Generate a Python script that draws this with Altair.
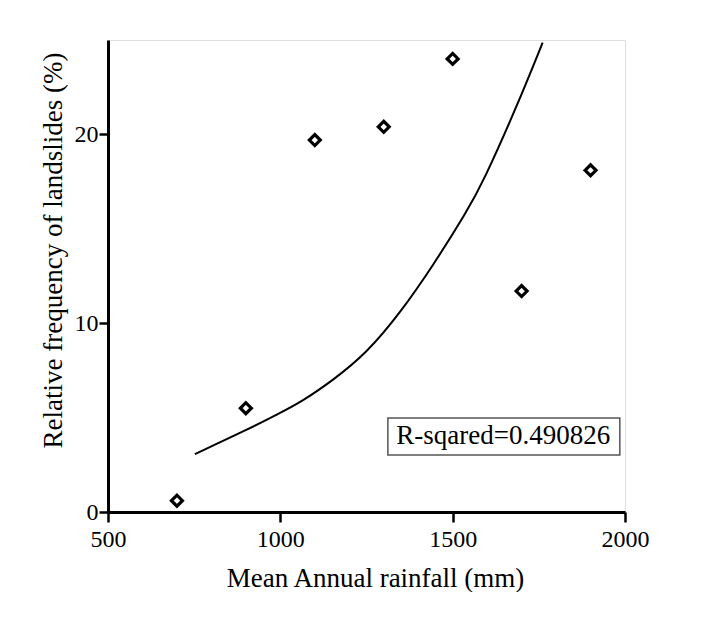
import altair as alt
import pandas as pd

# Observed data points
rainfall = [700, 900, 1100, 1300, 1500, 1700, 1900]
frequency = [0.6, 5.5, 19.7, 20.4, 24.0, 11.7, 18.1]

# Fitted curve
curve_x = [752, 902, 999, 1057, 1154, 1250, 1347, 1444, 1541, 1589, 1686, 1761]
curve_y = [3.07, 4.34, 5.25, 5.79, 6.99, 8.41, 10.52, 13.08, 15.91, 17.5, 21.47, 24.86]

# Annotation
label_text = ["R-sqared=0.490826"]
label_x = [1647]
label_y = [4.03]
box_x1, box_x2, box_y1, box_y2 = [1312], [1985], [3.02], [4.98]

FONT = "Liberation Serif"

pts = pd.DataFrame({"x": rainfall, "y": frequency})
cur = pd.DataFrame({"x": curve_x, "y": curve_y})
lab = pd.DataFrame({"x": label_x, "y": label_y, "t": label_text})
box = pd.DataFrame({"x": box_x1, "x2": box_x2, "y": box_y1, "y2": box_y2})

xscale = alt.Scale(domain=[500, 2000], nice=False, zero=False)
yscale = alt.Scale(domain=[0, 25], nice=False)

xaxis = alt.Axis(
    title="Mean Annual rainfall (mm)", values=[500, 1000, 1500, 2000], format="d", grid=False,
    domainColor="black", domainWidth=3, tickColor="black", tickWidth=2.5, tickSize=10,
    labelFont=FONT, labelFontSize=24, labelColor="black", labelPadding=5,
    titleFont=FONT, titleFontSize=27, titleFontWeight="normal", titleColor="black",
    titleX=267, titleY=66, titleBaseline="middle", labelFlush=False,
)
yaxis = alt.Axis(
    title="Relative frequency of landslides (%)", values=[0, 10, 20], format="d", grid=False,
    domainColor="black", domainWidth=3, tickColor="black", tickWidth=2.5, tickSize=9,
    labelFont=FONT, labelFontSize=24, labelColor="black", labelPadding=1,
    titleFont=FONT, titleFontSize=27, titleFontWeight="normal", titleColor="black",
    titleX=-55, titleY=210, titleAngle=-90, titleBaseline="middle", titleAlign="center",
    labelFlush=False,
)

line = alt.Chart(cur).mark_line(color="black", strokeWidth=2, interpolate="basis").encode(
    x=alt.X("x:Q", scale=xscale, axis=xaxis),
    y=alt.Y("y:Q", scale=yscale, axis=yaxis),
)
points = alt.Chart(pts).mark_point(shape="diamond", filled=False, color="black",
                                   strokeWidth=3.2, size=120, opacity=1).encode(
    x=alt.X("x:Q", scale=xscale),
    y=alt.Y("y:Q", scale=yscale),
)
rect = alt.Chart(box).mark_rect(fill="white", stroke="#555555", strokeWidth=1.5).encode(
    x="x:Q", x2="x2:Q", y="y:Q", y2="y2:Q",
)
text = alt.Chart(lab).mark_text(font=FONT, fontSize=27, color="black",
                                align="center", baseline="middle").encode(
    x="x:Q", y="y:Q", text="t:N",
)

chart = alt.layer(line, points, rect, text).properties(
    width=517, height=472,
    autosize=alt.AutoSizeParams(type="none"),
    padding={"left": 100, "top": 32, "right": 60, "bottom": 80},
).configure_view(stroke=None).configure(background="white")

chart.save("out.html", embed_options={"renderer": "svg", "actions": False})
